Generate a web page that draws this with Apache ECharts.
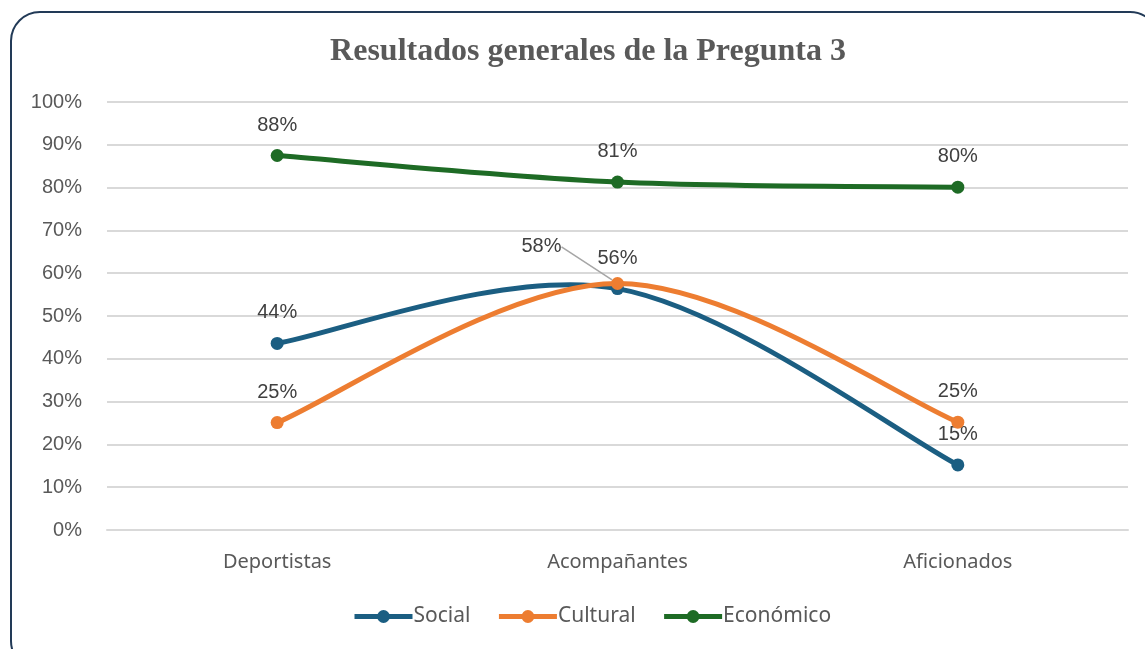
<!DOCTYPE html>
<html>
<head>
<meta charset="utf-8">
<script src="https://cdn.jsdelivr.net/npm/echarts@6/dist/echarts.min.js"></script>
<style>
  html, body { margin: 0; padding: 0; background: #fff; }
  #wrap { position: relative; width: 1145px; height: 649px; overflow: hidden; }
  #frame {
    position: absolute; left: 10px; top: 11px; width: 1150px; height: 660px;
    border: 2.5px solid #223a57; border-radius: 30px; box-sizing: border-box;
  }
  #chart { position: absolute; left: 0; top: 0; width: 1145px; height: 649px; }
</style>
</head>
<body>
<div id="wrap">
  <div id="frame"></div>
  <div id="chart"></div>
</div>
<script>
// 数据
const categories = ['Deportistas', 'Acompañantes', 'Aficionados'];
const social = [43.6, 56.4, 15.2];
const cultural = [25.1, 57.6, 25.2];
const economico = [87.5, 81.3, 80.1];
const seriesNames = ['Social', 'Cultural', 'Económico'];
const colors = ['#1b5e82', '#ed7d31', '#1e6b25'];

const chart = echarts.init(document.getElementById('chart'));

const labelStyle = {
  show: true,
  position: 'top',
  distance: 14,
  fontSize: 20,
  color: '#404040',
  fontFamily: 'Liberation Sans',
  formatter: p => Math.round(p.value) + '%',
};

// 平滑曲线（类似 Excel 的平滑线），坐标通过 api.coord 由坐标轴换算
function curveSeries(name, values, color, z) {
  return {
    name: name + '-curve',
    type: 'custom',
    z: z,
    silent: true,
    data: values.map((v, i) => [i, v]),
    encode: { x: 0, y: 1 },
    renderItem: (params, api) => {
      if (params.dataIndex !== 0) return null;
      const pts = values.map((v, i) => api.coord([i, v]));
      const children = [];
      for (let i = 0; i < pts.length - 1; i++) {
        const p0 = pts[i - 1] || pts[i];
        const p1 = pts[i];
        const p2 = pts[i + 1];
        const p3 = pts[i + 2] || pts[i + 1];
        children.push({
          type: 'bezierCurve',
          shape: {
            x1: p1[0], y1: p1[1],
            x2: p2[0], y2: p2[1],
            cpx1: p1[0] + (p2[0] - p0[0]) / 6,
            cpy1: p1[1] + (p2[1] - p0[1]) / 6,
            cpx2: p2[0] - (p3[0] - p1[0]) / 6,
            cpy2: p2[1] - (p3[1] - p1[1]) / 6,
          },
          style: { stroke: color, lineWidth: 5, fill: null, lineCap: 'round' },
        });
      }
      return { type: 'group', children: children };
    },
  };
}

function pointSeries(name, values, color, idx, z) {
  return {
    name: name,
    type: 'line',
    symbol: 'circle',
    symbolSize: 13,
    z: z,
    data: values.map((v, i) => {
      // Cultural / Acompañantes 的标签移到左侧，带引导线
      if (idx === 1 && i === 1) {
        return { value: v, labelLine: { show: true, lineStyle: { color: '#a6a6a6', width: 1.5 } } };
      }
      return v;
    }),
    lineStyle: { color: color, width: 5, opacity: 0 },
    itemStyle: { color: color },
    label: labelStyle,
    labelLayout: p => {
      if (p.seriesIndex === 3 && p.dataIndex === 1) {
        return { dx: -76, dy: -6 };
      }
      return {};
    },
  };
}

const option = {
  animation: false,
  title: {
    text: 'Resultados generales de la Pregunta 3',
    left: 583,
    textAlign: 'center',
    top: 31,
    textStyle: {
      fontFamily: 'Liberation Serif',
      fontSize: 32,
      fontWeight: 'bold',
      color: '#595959',
    },
  },
  grid: {
    left: 107,
    right: 17,
    top: 102,
    bottom: 119,
    containLabel: false,
  },
  xAxis: {
    type: 'category',
    data: categories,
    boundaryGap: true,
    axisLine: { lineStyle: { color: '#d9d9d9', width: 2 } },
    axisTick: { show: false },
    axisLabel: {
      margin: 22,
      fontSize: 20,
      color: '#595959',
      fontFamily: 'Noto Sans',
    },
  },
  yAxis: {
    type: 'value',
    min: 0,
    max: 100,
    interval: 10,
    axisLine: { show: false },
    axisTick: { show: false },
    splitLine: { lineStyle: { color: '#d9d9d9', width: 2 } },
    axisLabel: {
      margin: 25,
      fontSize: 20,
      color: '#595959',
      fontFamily: 'Liberation Sans',
      formatter: v => v + '%',
    },
  },
  legend: {
    bottom: 17,
    left: 347,
    itemWidth: 58,
    itemHeight: 16,
    itemGap: 26,
    textStyle: { fontSize: 21, color: '#595959', fontFamily: 'Noto Sans', padding: [0, 0, 0, -4] },
    data: seriesNames.map((n, i) => ({
      name: n,
      lineStyle: { color: colors[i], width: 5, opacity: 1 },
      itemStyle: { color: colors[i] },
    })),
  },
  series: [
    curveSeries(seriesNames[0], social, colors[0], 2),
    pointSeries(seriesNames[0], social, colors[0], 0, 3),
    curveSeries(seriesNames[1], cultural, colors[1], 4),
    pointSeries(seriesNames[1], cultural, colors[1], 1, 5),
    curveSeries(seriesNames[2], economico, colors[2], 6),
    pointSeries(seriesNames[2], economico, colors[2], 2, 7),
  ],
};

chart.setOption(option);
</script>
</body>
</html>
